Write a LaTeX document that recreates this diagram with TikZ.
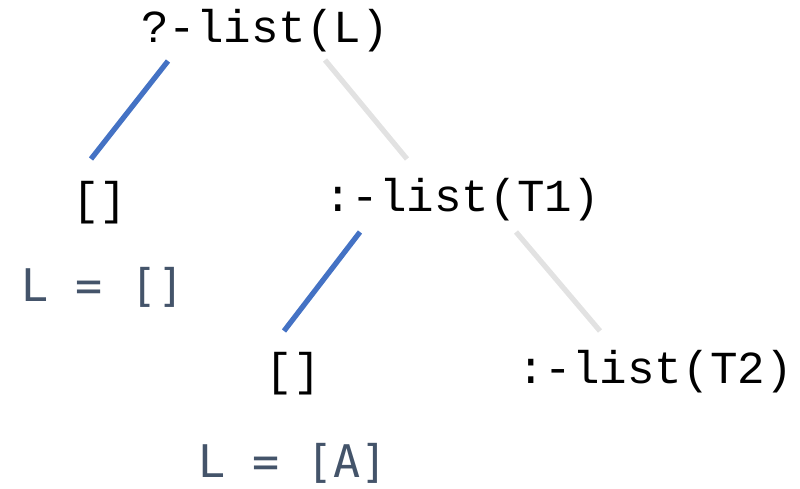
\documentclass[tikz,border=0pt]{standalone}
\usepackage{fontspec}
\usepackage{xcolor}
\setmonofont{Liberation Mono}
\newfontfamily\resfont{DejaVu Sans Mono}
\usetikzlibrary{positioning}
\definecolor{goalBlue}{RGB}{68,114,196}
\definecolor{failGray}{RGB}{226,226,226}
\definecolor{resSlate}{RGB}{68,84,106}

\begin{document}
\begin{tikzpicture}[
    x=0.02cm, y=-0.02cm,
    goal/.style={inner sep=0pt, anchor=base, font=\ttfamily\fontsize{26.1}{30}\selectfont},
    res/.style={inner sep=0pt, anchor=base, text=resSlate, font=\resfont\fontsize{25.6}{30}\selectfont},
    okedge/.style={draw=goalBlue, line width=3pt},
    noedge/.style={draw=failGray, line width=3pt}
  ]
    \useasboundingbox (0,0) rectangle (800,489);

    % goals
    \node[goal] (root)  at (265,43)  {?-list(L)};
    \node[goal] (nilA)  at (100,215) {[]};
    \node[goal] (tailA) at (462,212) {:-list(T1)};
    \node[goal] (nilB)  at (293,385) {[]};
    \node[goal] (tailB) at (655,383) {:-list(T2)};

    % answers
    \node[res] (resA) at (103,301) {L = []};
    \node[res] (resB) at (293,477) {L = [A]};

    % edge ends
    \coordinate (root-l)  at (168,61);
    \coordinate (root-r)  at (325,60);
    \coordinate (nilA-t)  at (91,159);
    \coordinate (tailA-t) at (407,159);
    \coordinate (tailA-l) at (360,232);
    \coordinate (tailA-r) at (516,232);
    \coordinate (nilB-t)  at (284,331);
    \coordinate (tailB-t) at (600,331);

    \draw[okedge] (root-l) -- (nilA-t);
    \draw[noedge] (root-r) -- (tailA-t);
    \draw[okedge] (tailA-l) -- (nilB-t);
    \draw[noedge] (tailA-r) -- (tailB-t);
\end{tikzpicture}
\end{document}
